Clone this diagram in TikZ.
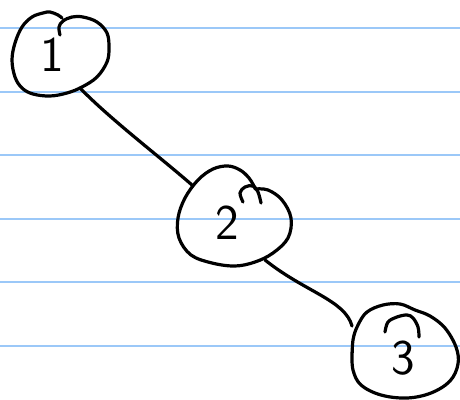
\documentclass[tikz,border=0pt]{standalone}
\definecolor{ruleblue}{RGB}{155,200,248}
\begin{document}
\begin{tikzpicture}[x=1pt,y=-1pt,
  pen/.style={line width=3.2pt, line cap=round, line join=round, black},
  rule/.style={draw=ruleblue, line width=2pt},
  digit/.style={font=\sffamily\fontsize{50}{50}\selectfont, inner sep=0pt}]
\useasboundingbox (0,0) rectangle (460,399);
\fill[white] (0,0) rectangle (460,399);
% ruled paper
\foreach \yy in {28,91.5,155,218.5,282,345.5} \draw[rule] (0,\yy) -- (460,\yy);
% labels
\node[digit] (n1) at (52,55) {1};
\node[digit] (n2) at (227,223) {2};
\node[digit] (n3) at (403,358) {3};
% hand drawn outlines
\draw[pen] plot[smooth, tension=0.6] coordinates {(60,35) (59,27) (63,21) (72,17) (83,17) (97,22) (107,33) (109,48) (107,62) (97,77) (82,87) (67,93) (50,96) (33,94) (22,88) (15,77) (12,60) (15,43) (22,27) (32,17) (43,13) (50,12) (58,15) (62,18)};
\draw[pen] plot[smooth, tension=0.6] coordinates {(243,202) (240,193) (245,187) (253,186) (258,192) (261,203)};
\draw[pen] plot[smooth, tension=0.6] coordinates {(255,189) (268,190) (282,200) (291,218) (288,238) (273,253) (255,262) (235,266) (212,263) (191,255) (179,238) (178,218) (185,198) (198,180) (213,169) (228,166) (240,170) (249,178) (255,188)};
\draw[pen] plot[smooth, tension=0.6] coordinates {(385,332) (388,322) (397,317) (407,315) (413,318) (418,327) (419,337)};
\draw[pen] plot[smooth, tension=0.6] coordinates {(352,362) (353,340) (358,325) (367,312) (383,305) (400,304) (415,310) (430,316) (445,328) (456,347) (458,364) (450,381) (431,393) (407,398) (381,395) (361,385) (353,370) (352,352)};
% connectors
\coordinate (e12s) at (80,88);
\coordinate (e12t) at (192,185);
\coordinate (e23s) at (265,260);
\coordinate (e23t) at (352,326);
\draw[pen] (e12s) .. controls (110,119) and (160,157) .. (e12t);
\draw[pen] (e23s) .. controls (305,292) and (345,300) .. (e23t);
\end{tikzpicture}
\end{document}
